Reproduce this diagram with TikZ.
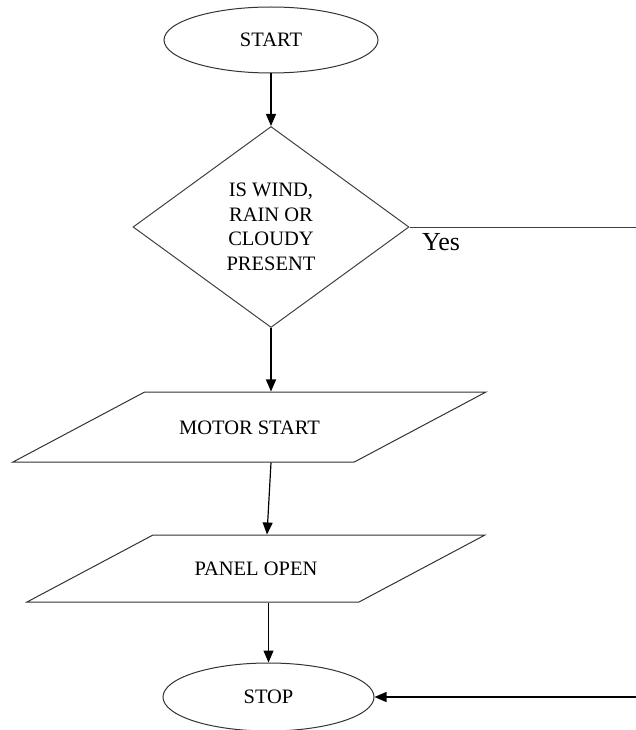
\documentclass[tikz,border=0pt]{standalone}
\usepackage{fontspec}
\setmainfont{Liberation Serif}
\usepackage{tikz}
\usetikzlibrary{arrows.meta}
\usetikzlibrary{positioning}
\usetikzlibrary{shapes.geometric}
\newcommand{\flowfont}{\fontsize{20.5}{24.5}\selectfont}
\newcommand{\yesfont}{\fontsize{26}{30}\selectfont}
\tikzstyle{startstop} = [ellipse, minimum width=214pt, minimum height=66pt, inner sep=0pt, draw=black!80, line width=1pt, font=\flowfont]
\tikzstyle{decision} = [diamond, aspect=1.37, minimum width=276pt, minimum height=201pt, inner sep=0pt, align=center, draw=black!75, line width=1pt, font=\flowfont]
\tikzstyle{io} = [trapezium, trapezium left angle=28, trapezium right angle=152, trapezium stretches body=true, text height=14pt, text depth=0pt, inner xsep=0pt, inner ysep=28pt, draw=black!80, line width=1pt, font=\flowfont]
\tikzstyle{arrow} = [-{Triangle[length=12pt,width=10pt]}, line width=1.2pt]

\begin{document}
\begin{tikzpicture}[x=1pt, y=-1pt]

  \useasboundingbox (0,0) rectangle (636,730);

  \node (start) [startstop] at (271,40) {START};
  \node (dec) [decision] at (271,227) {IS WIND,\\RAIN OR\\CLOUDY\\PRESENT};
  \node (motor) [io, minimum width=473pt] at (249.5,427) {MOTOR START};
  \node (panel) [io, minimum width=458pt, inner ysep=26.5pt] at (256,568.5) {PANEL OPEN};
  \node (stop) [startstop, minimum width=211pt, minimum height=68pt] at (268.5,697) {STOP};
  \node (yes) [anchor=base west, inner sep=0pt, font=\yesfont] at (422,250) {Yes};

  \coordinate (r1) at (636,227);
  \coordinate (r2) at (636,697);

  \draw[arrow] (start) -- (dec);
  \draw[arrow] (dec.south) -- (dec.south |- motor.north);
  \draw[arrow] (dec.south |- motor.south) -- ([xshift=-4pt]dec.south |- panel.north);
  \draw[arrow] (stop.north |- panel.south) -- (stop);
  \draw[line width=1pt, black!75] (dec.east) -- (r1);
  \draw[arrow] (r2) -- (stop.east);

\end{tikzpicture}
\end{document}
